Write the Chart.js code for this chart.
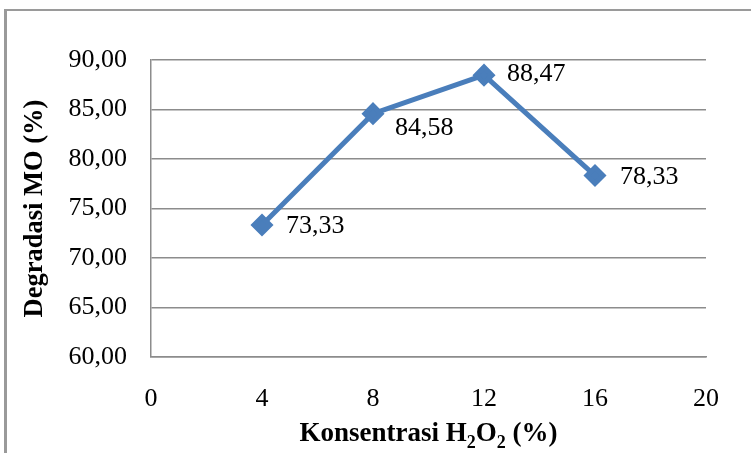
<!DOCTYPE html>
<html lang="id">
<head>
    <meta charset="UTF-8">
    <title>Degradasi MO</title>
    <script src="https://cdn.jsdelivr.net/npm/chart.js"></script>
    <style>
        html, body { margin: 0; padding: 0; background: #ffffff; overflow: hidden; }
        .moldura {
            position: absolute; left: 4px; top: 9px; width: 800px; height: 500px;
            border-left: 3px solid #9a9a9a; border-top: 2px solid #9a9a9a;
        }
        .grafico { position: absolute; left: 0; top: 0; width: 751px; height: 453px; }
    </style>
</head>
<body>
    <div class="moldura"></div>
    <div class="grafico"><canvas id="myChartCanvas" width="751" height="453"></canvas></div>

<script>
    // dados
    const konsentrasi = [4, 8, 12, 16];
    const degradasi = [73.33, 84.58, 88.47, 78.33];
    const ticksX = [0, 4, 8, 12, 16, 20];
    const ticksY = [60, 65, 70, 75, 80, 85, 90];

    const fonte = 'Liberation Serif, Times New Roman, serif';
    const corLinha = '#4a7ebb';
    const corGrade = '#8c8c8c';

    function virgula(v) {
        return v.toFixed(2).replace('.', ',');
    }

    // rótulos dos pontos (deslocamento relativo a cada ponto)
    const deslocRotulo = [[24, 1], [22, 15], [23, -1], [25, 2]];

    const pluginTextos = {
        id: 'textos',
        afterDatasetsDraw(chart) {
            const ctx = chart.ctx;
            const meta = chart.getDatasetMeta(0);
            ctx.save();
            ctx.fillStyle = '#000';
            ctx.font = '26px ' + fonte;
            ctx.textAlign = 'left';
            ctx.textBaseline = 'middle';
            meta.data.forEach((p, i) => {
                ctx.fillText(virgula(degradasi[i]), p.x + deslocRotulo[i][0], p.y + deslocRotulo[i][1]);
            });

            // título do eixo x com subscritos
            const area = chart.chartArea;
            const partes = [
                ['Konsentrasi H', 27, 0],
                ['2', 18, 7],
                ['O', 27, 0],
                ['2', 18, 7],
                [' (%)', 27, 0]
            ];
            let largura = 0;
            partes.forEach(pt => {
                ctx.font = 'bold ' + pt[1] + 'px ' + fonte;
                largura += ctx.measureText(pt[0]).width;
            });
            let x = (area.left + area.right) / 2 - largura / 2;
            const yBase = 441;
            ctx.textBaseline = 'alphabetic';
            partes.forEach(pt => {
                ctx.font = 'bold ' + pt[1] + 'px ' + fonte;
                ctx.fillText(pt[0], x, yBase + pt[2]);
                x += ctx.measureText(pt[0]).width;
            });

            // título do eixo y
            ctx.translate(35, (area.top + area.bottom) / 2);
            ctx.rotate(-Math.PI / 2);
            ctx.font = 'bold 26.5px ' + fonte;
            ctx.textAlign = 'center';
            ctx.textBaseline = 'middle';
            ctx.fillText('Degradasi MO (%)', 0, 0);
            ctx.restore();
        }
    };

    const config = {
        type: 'line',
        data: {
            datasets: [{
                label: 'Degradasi MO',
                data: konsentrasi.map((k, i) => ({ x: k, y: degradasi[i] })),
                borderColor: corLinha,
                backgroundColor: corLinha,
                borderWidth: 5,
                pointStyle: 'rectRot',
                pointRadius: 8,
                pointHoverRadius: 8,
                tension: 0,
                fill: false
            }]
        },
        options: {
            responsive: false,
            animation: false,
            layout: { padding: { left: 0, right: 45, top: 60, bottom: 0 } },
            plugins: {
                legend: { display: false },
                tooltip: { enabled: false }
            },
            scales: {
                x: {
                    type: 'linear',
                    min: 0,
                    max: 20,
                    afterBuildTicks: (scale) => { scale.ticks = ticksX.map(v => ({ value: v })); },
                    afterFit: (scale) => { scale.height = 96; },
                    grid: { display: false, drawTicks: false },
                    border: { display: true, color: corGrade, width: 1.5 },
                    ticks: {
                        padding: 27,
                        color: '#000',
                        font: { family: fonte, size: 26 },
                        maxRotation: 0
                    }
                },
                y: {
                    min: 60,
                    max: 90,
                    afterBuildTicks: (scale) => { scale.ticks = ticksY.map(v => ({ value: v })); },
                    afterFit: (scale) => { scale.width = 151; },
                    grid: { color: corGrade, lineWidth: 1.5, drawTicks: false },
                    border: { display: true, color: corGrade, width: 1.5 },
                    ticks: {
                        padding: 24,
                        color: '#000',
                        font: { family: fonte, size: 26 },
                        callback: (v) => virgula(v)
                    }
                }
            }
        },
        plugins: [pluginTextos]
    };

    let myChart = new Chart(document.getElementById('myChartCanvas'), config);
</script>
</body>
</html>
